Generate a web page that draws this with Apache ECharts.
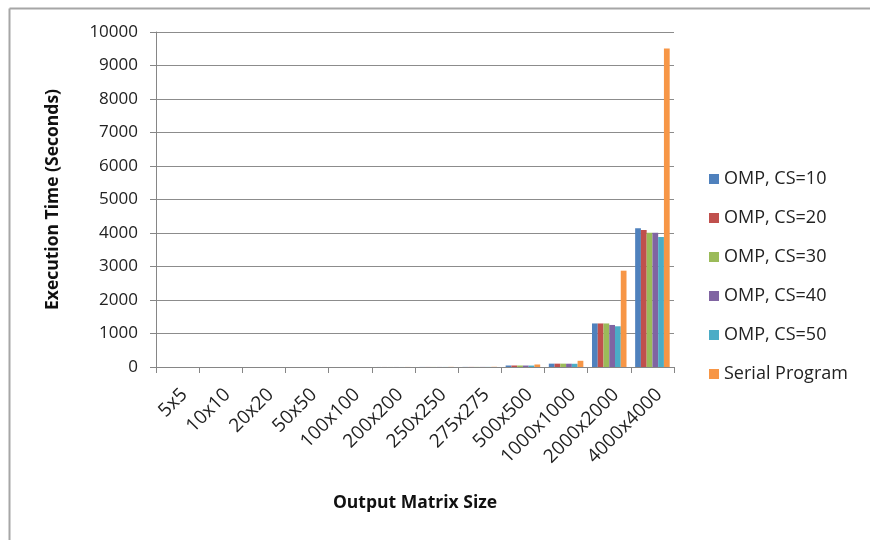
<!DOCTYPE html>
<html>
<head>
<meta charset="utf-8">
<style>
  html, body { margin: 0; padding: 0; background: #fff; }
  #chart { width: 870px; height: 540px; }
</style>
<script src="https://cdn.jsdelivr.net/npm/echarts@6/dist/echarts.min.js"></script>
</head>
<body>
<div id="chart"></div>
<script>
// Matrix sizes on the category axis
const categories = ['5x5', '10x10', '20x20', '50x50', '100x100', '200x200',
  '250x250', '275x275', '500x500', '1000x1000', '2000x2000', '4000x4000'];

// Execution time in seconds for each configuration
const omp10 = [0.01, 0.01, 0.02, 0.05, 0.2, 1, 2, 3, 45, 100, 1300, 4140];
const omp20 = [0.01, 0.01, 0.02, 0.05, 0.2, 1, 2, 3, 45, 100, 1300, 4090];
const omp30 = [0.01, 0.01, 0.02, 0.05, 0.2, 1, 2, 3, 45, 100, 1300, 4010];
const omp40 = [0.01, 0.01, 0.02, 0.05, 0.2, 1, 2, 3, 44, 98, 1255, 4010];
const omp50 = [0.01, 0.01, 0.02, 0.05, 0.2, 1, 2, 3, 43, 96, 1215, 3880];
const serial = [0.01, 0.01, 0.03, 0.1, 0.5, 2, 4, 6, 75, 185, 2875, 9510];

const seriesNames = ['OMP, CS=10', 'OMP, CS=20', 'OMP, CS=30', 'OMP, CS=40', 'OMP, CS=50', 'Serial Program'];
const seriesData = [omp10, omp20, omp30, omp40, omp50, serial];
const colors = ['#4F81BD', '#C0504D', '#9BBB59', '#8064A2', '#4BACC6', '#F79646'];

const font = '"Open Sans", "Liberation Sans", sans-serif';

const chart = echarts.init(document.getElementById('chart'), null, { renderer: 'canvas' });

chart.setOption({
  animation: false,
  backgroundColor: '#fff',
  color: colors,
  graphic: [
    { type: 'line', shape: { x1: 9.5, y1: 540, x2: 9.5, y2: 8.5 }, style: { stroke: '#a6a6a6', lineWidth: 2 } },
    { type: 'line', shape: { x1: 9.5, y1: 8.5, x2: 870, y2: 8.5 }, style: { stroke: '#a6a6a6', lineWidth: 2 } }
  ],
  grid: { left: 156, right: 196, top: 32, bottom: 173 },
  legend: {
    orient: 'vertical',
    left: 704,
    top: 165,
    itemWidth: 10,
    itemHeight: 10,
    itemGap: 21,
    icon: 'rect',
    textStyle: { fontFamily: font, fontSize: 18, color: '#222' },
    data: seriesNames
  },
  xAxis: {
    type: 'category',
    data: categories,
    name: 'Output Matrix Size',
    nameLocation: 'middle',
    nameGap: 127,
    nameTextStyle: { fontFamily: font, fontSize: 17.5, fontWeight: 'bold', color: '#111' },
    axisLine: { lineStyle: { color: '#868686', width: 1 } },
    axisTick: { show: true, alignWithLabel: false, length: 6, lineStyle: { color: '#868686' } },
    axisLabel: {
      rotate: 45, interval: 0, fontFamily: font, fontSize: 19, color: '#222',
      margin: 18, verticalAlign: 'top'
    }
  },
  yAxis: {
    type: 'value',
    min: 0,
    max: 10000,
    interval: 1000,
    name: 'Execution Time (Seconds)',
    nameLocation: 'middle',
    nameGap: 94,
    nameTextStyle: { fontFamily: font, fontSize: 17.5, fontWeight: 'bold', color: '#111' },
    axisLine: { show: true, lineStyle: { color: '#868686' } },
    axisTick: { show: true, length: 6, lineStyle: { color: '#868686' } },
    axisLabel: { fontFamily: font, fontSize: 17, color: '#222', margin: 18, formatter: (v) => String(v) },
    splitLine: { lineStyle: { color: '#8c8c8c', width: 1 } }
  },
  series: seriesNames.map((name, i) => ({
    name: name,
    type: 'bar',
    data: seriesData[i],
    barGap: '0%',
    barCategoryGap: '20%',
    itemStyle: { color: colors[i] }
  }))
});
</script>
</body>
</html>
